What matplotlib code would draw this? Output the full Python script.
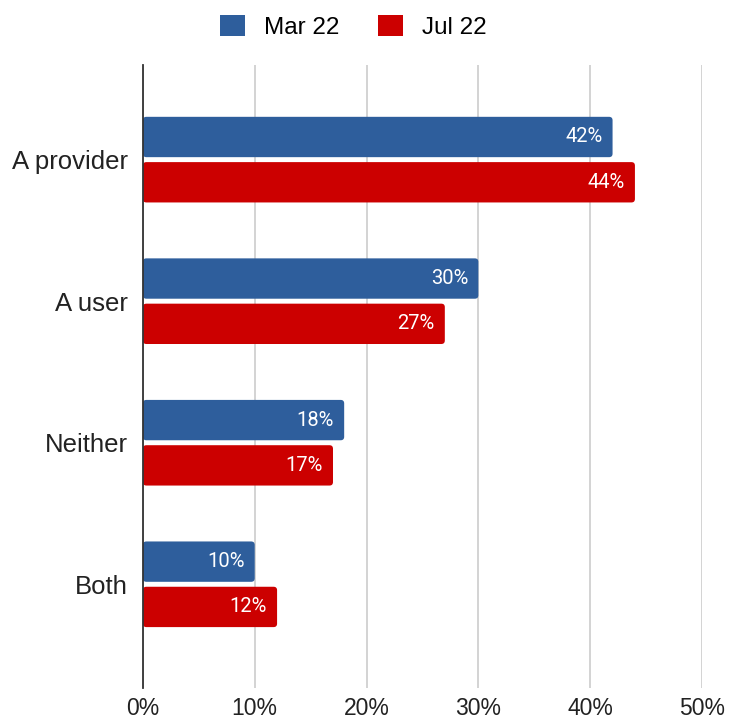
import numpy as np
import matplotlib
matplotlib.use("Agg")
import matplotlib.pyplot as plt
from matplotlib.patches import Patch, FancyBboxPatch

plt.rcParams["font.family"] = ["Liberation Sans", "DejaVu Sans"]

categories = ["A provider", "A user", "Neither", "Both"]
series_names = ["Mar 22", "Jul 22"]
mar22 = [42, 30, 18, 10]
jul22 = [44, 27, 17, 12]
x_ticks = [0, 10, 20, 30, 40, 50]

BLUE = "#2E5E9C"
RED = "#CC0000"

fig = plt.figure(figsize=(7.29, 7.2), dpi=100)
ax = fig.add_axes([0.196, 0.044, 0.767, 0.866])

y = np.arange(len(categories))
bar_h = 0.285
off = 0.16

ax.set_xlim(0, 50)
ax.set_ylim(3.735, -0.67)

# rounded bar ends: scale the corner radius so it looks round in pixels
bbox = ax.get_window_extent()
px_per_x = bbox.width / 50
px_per_y = bbox.height / (3.735 + 0.67)
aspect = px_per_x / px_per_y
radius = 3.5 / px_per_x

for vals, color, sign in [(mar22, BLUE, -1), (jul22, RED, 1)]:
    for yi, v in zip(y, vals):
        yc = yi + sign * off
        ax.add_patch(FancyBboxPatch(
            (0, yc - bar_h / 2), v, bar_h,
            boxstyle=f"round,pad=0,rounding_size={radius}",
            mutation_aspect=aspect, facecolor=color, edgecolor="none",
            zorder=3))
        ax.text(v - 0.9, yc, f"{v}%", ha="right", va="center",
                color="white", fontsize=14.5,
                family=["Roboto", "DejaVu Sans"], zorder=4)

ax.set_xticks(x_ticks)
ax.set_xticklabels([f"{t}%" for t in x_ticks], fontsize=16.5, color="#222222")
ax.set_yticks(y)
ax.set_yticklabels(categories, fontsize=18.5, color="#222222")
ax.tick_params(axis="both", length=0)
ax.tick_params(axis="x", pad=6)
ax.tick_params(axis="y", pad=11)

ax.grid(axis="x", color="#CCCCCC", linewidth=1.2, zorder=0)
ax.set_axisbelow(True)
for s in ["top", "right", "bottom"]:
    ax.spines[s].set_visible(False)
ax.spines["left"].set_color("#333333")
ax.spines["left"].set_linewidth(1.3)
ax.spines["left"].set_zorder(5)

handles = [Patch(facecolor=BLUE, label=series_names[0]),
           Patch(facecolor=RED, label=series_names[1])]
fig.legend(handles=handles, loc="center", bbox_to_anchor=(0.485, 0.963),
           ncol=2, frameon=False, fontsize=17.5, handlelength=1.0,
           handleheight=1.0, handletextpad=0.8, columnspacing=1.6)

fig.savefig("out.png", dpi=100)
